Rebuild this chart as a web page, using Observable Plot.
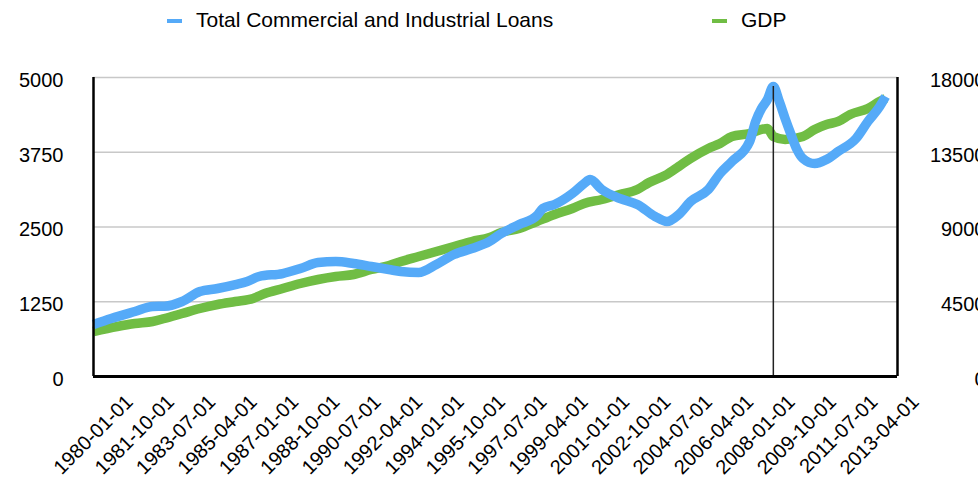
<!DOCTYPE html>
<html>
<head>
<meta charset="utf-8">
<script src="https://cdn.jsdelivr.net/npm/d3@7"></script>
<script src="https://cdn.jsdelivr.net/npm/@observablehq/plot@0.6"></script>
<style>
  body { margin: 0; background: #fff; font-family: "Liberation Sans", Arial, sans-serif; }
  #legend { position: relative; height: 45px; width: 978px; font-size: 21px; color: #000; }
  #legend .sw { position: absolute; top: 19px; width: 15px; height: 4px; }
  #legend .lab { position: absolute; top: 8px; line-height: 24px; white-space: nowrap; }
</style>
</head>
<body>
<div id="legend">
  <div class="sw" style="left:167px;background:#55aaf8"></div>
  <div class="lab" style="left:196px">Total Commercial and Industrial Loans</div>
  <div class="sw" style="left:712px;background:#70bd44"></div>
  <div class="lab" style="left:741px">GDP</div>
</div>
<div id="chart"></div>
<script>
// Total Commercial and Industrial Loans (left axis)
const loanDates = ["1980-01-01","1980-10-01","1981-10-01","1982-07-01","1983-01-01","1983-10-01","1984-07-01","1985-04-01","1986-01-01","1986-07-01","1987-01-01","1988-01-01","1988-10-01","1989-07-01","1990-04-01","1991-01-01","1991-10-01","1992-07-01","1993-01-01","1993-10-01","1994-07-01","1995-04-01","1996-01-01","1996-10-01","1997-04-01","1998-01-01","1998-10-01","1999-01-01","1999-07-01","2000-04-01","2000-10-01","2001-01-01","2001-07-01","2002-04-01","2003-01-01","2003-10-01","2004-04-01","2004-10-01","2005-04-01","2006-01-01","2006-07-01","2007-01-01","2007-10-01","2008-01-01","2008-04-01","2008-07-01","2008-10-01","2009-01-01","2009-04-01","2009-07-01","2009-10-01","2010-01-01","2010-07-01","2011-01-01","2011-07-01","2012-04-01","2012-10-01","2013-04-01","2013-07-01"];
const loanValues = [870,970,1087,1171,1175,1254,1421,1472,1538,1589,1672,1722,1806,1906,1923,1890,1839,1789,1756,1739,1873,2040,2140,2258,2391,2542,2690,2809,2876,3060,3227,3294,3127,2977,2876,2676,2592,2709,2926,3127,3395,3595,3930,4264,4482,4630,4850,4599,4314,4047,3796,3645,3560,3629,3763,3980,4264,4515,4682];

// GDP (right axis)
const gdpDates = ["1980-01-01","1981-01-01","1981-10-01","1982-07-01","1983-01-01","1983-10-01","1984-07-01","1985-04-01","1986-01-01","1986-10-01","1987-04-01","1988-01-01","1988-10-01","1989-07-01","1990-04-01","1991-01-01","1991-10-01","1992-07-01","1993-01-01","1993-10-01","1994-07-01","1995-04-01","1996-01-01","1996-10-01","1997-04-01","1998-01-01","1998-10-01","1999-07-01","2000-04-01","2000-10-01","2001-07-01","2002-04-01","2003-01-01","2003-07-01","2004-04-01","2004-10-01","2005-04-01","2006-01-01","2006-07-01","2007-01-01","2007-10-01","2008-04-01","2008-07-01","2008-10-01","2009-04-01","2010-01-01","2010-07-01","2011-01-01","2011-07-01","2012-01-01","2012-10-01","2013-04-01","2013-07-01"];
const gdpValues = [2709,3010,3191,3311,3492,3793,4094,4335,4515,4696,4997,5298,5599,5840,6021,6141,6442,6683,6923,7225,7526,7827,8128,8368,8669,8910,9332,9753,10114,10415,10656,10957,11258,11680,12161,12643,13125,13727,14028,14449,14630,14871,14931,14449,14269,14449,14871,15172,15352,15774,16135,16556,16737];

const leftTicks = [0, 1250, 2500, 3750, 5000];
const rightTicks = [0, 4500, 9000, 13500, 18000];
const xTickLabels = ["1980-01-01","1981-10-01","1983-07-01","1985-04-01","1987-01-01","1988-10-01","1990-07-01","1992-04-01","1994-01-01","1995-10-01","1997-07-01","1999-04-01","2001-01-01","2002-10-01","2004-07-01","2006-04-01","2008-01-01","2009-10-01","2011-07-01","2013-04-01"];
const markerDate = "2008-10-01";
const markerValue = 4850;
const xDomain = ["1980-01-01", "2014-01-01"];

const leftMax = 5000, rightMax = 18000;
const parse = d3.utcParse("%Y-%m-%d");
const fmt = d3.utcFormat("%Y-%m-%d");

const loans = loanDates.map((d, i) => ({date: parse(d), value: loanValues[i]}));
const gdp = gdpDates.map((d, i) => ({date: parse(d), value: gdpValues[i] * leftMax / rightMax}));

const chart = Plot.plot({
  width: 978,
  height: 435,
  marginTop: 32,
  marginBottom: 104,
  marginLeft: 93,
  marginRight: 81,
  style: {fontFamily: "Liberation Sans, Arial, sans-serif", fontSize: "20px", color: "#000", background: "#fff"},
  x: {type: "utc", domain: xDomain.map(parse)},
  y: {domain: [0, leftMax]},
  marks: [
    Plot.gridY(leftTicks, {stroke: "#c8c8c8", strokeOpacity: 1, strokeWidth: 1.5}),
    Plot.axisY(leftTicks, {anchor: "left", tickSize: 0, tickPadding: 30, fontSize: 20, label: null, dy: 3, tickFormat: d => String(d)}),
    Plot.text(rightTicks, {frameAnchor: "right", y: d => d * leftMax / rightMax, text: d => String(d), textAnchor: "end", dx: 88, dy: 3, fontSize: 20}),
    Plot.axisX(xTickLabels.map(parse), {anchor: "bottom", tickSize: 0, tickPadding: 22, tickRotate: -45, tickFormat: fmt, fontSize: 20, dx: 36, label: null}),
    Plot.line(gdp, {x: "date", y: "value", stroke: "#70bd44", strokeWidth: 9.5, curve: "monotone-x", strokeLinejoin: "round", strokeLinecap: "butt"}),
    Plot.line(loans, {x: "date", y: "value", stroke: "#55aaf8", strokeWidth: 9.5, curve: "monotone-x", strokeLinejoin: "round", strokeLinecap: "butt"}),
    Plot.ruleX([parse(markerDate)], {y1: 0, y2: markerValue, stroke: "#222", strokeWidth: 1.5}),
    Plot.ruleX([parse(xDomain[0]), parse(xDomain[1])], {stroke: "#000", strokeWidth: 2.5}),
    Plot.ruleY([0], {stroke: "#000", strokeWidth: 3})
  ]
});
document.getElementById("chart").appendChild(chart);
</script>
</body>
</html>
